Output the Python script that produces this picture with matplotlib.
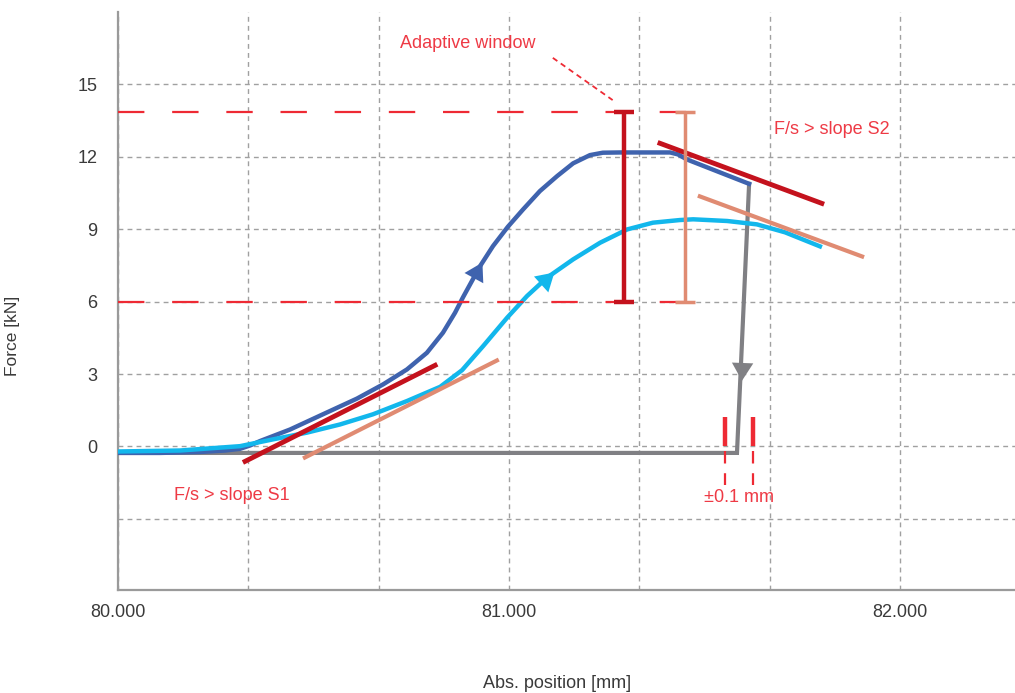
import numpy as np
import matplotlib.pyplot as plt

plt.rcParams['font.family'] = ['Liberation Sans', 'DejaVu Sans']
plt.rcParams['lines.scale_dashes'] = False

# force curve, first press (dark blue)
pos_a = [80.000, 80.107, 80.210, 80.274, 80.312, 80.338, 80.363, 80.440, 80.524,
         80.611, 80.678, 80.739, 80.790, 80.831, 80.862, 80.882, 80.926, 80.959,
         80.997, 81.036, 81.079, 81.123, 81.164, 81.207, 81.240, 81.284, 81.412,
         81.432, 81.455, 81.614]
force_a = [-0.27, -0.27, -0.23, -0.17, -0.10, 0.04, 0.22, 0.70, 1.33,
           1.98, 2.57, 3.19, 3.88, 4.71, 5.54, 6.17, 7.47, 8.30,
           9.10, 9.82, 10.58, 11.20, 11.73, 12.07, 12.17, 12.18, 12.18,
           12.10, 11.89, 10.88]

# force curve, second press (cyan)
pos_b = [80.000, 80.159, 80.312, 80.396, 80.483, 80.568, 80.652, 80.739, 80.824,
         80.880, 80.934, 80.995, 81.046, 81.097, 81.164, 81.233, 81.302, 81.368,
         81.437, 81.471, 81.558, 81.634, 81.706, 81.795]
force_b = [-0.21, -0.17, 0.01, 0.29, 0.57, 0.91, 1.33, 1.88, 2.47,
           3.16, 4.16, 5.33, 6.23, 6.99, 7.75, 8.44, 8.99, 9.27,
           9.38, 9.41, 9.34, 9.20, 8.87, 8.29]

# return path (gray)
pos_ret = [81.614, 81.583, 80.000]
force_ret = [10.88, -0.27, -0.27]

# slope lines
s1_red = ([80.325, 80.811], [-0.62, 3.36])
s1_sal = ([80.478, 80.969], [-0.46, 3.56])
s2_red = ([81.386, 81.800], [12.56, 10.07])
s2_sal = ([81.488, 81.903], [10.36, 7.87])

# adaptive window
win_lo, win_hi = 5.97, 13.84
win_x_red, win_x_sal = 81.294, 81.450
win_end = 81.46

# +-0.1 mm tolerance marks
tol_x = [81.552, 81.624]

c_blue = '#3F63AE'
c_cyan = '#12B7EC'
c_gray = '#808084'
c_dred = '#C4121D'
c_sal = '#E08B72'
c_red = '#EE2A34'
c_txt = '#EE3A45'

fig = plt.figure(figsize=(10.15, 6.93), dpi=100)
ax = fig.add_axes([118 / 1015, 103 / 693, 897 / 1015, 578 / 693])
ax.set_xlim(80.0, 82.294)
ax.set_ylim(-5.95, 18.0)

xt = [80.0, 80 + 1 / 3, 80 + 2 / 3, 81.0, 81 + 1 / 3, 81 + 2 / 3, 82.0]
ax.set_xticks(xt)
ax.set_xticklabels(['80.000', '', '', '81.000', '', '', '82.000'])
ax.set_yticks([-3, 0, 3, 6, 9, 12, 15])
ax.set_yticklabels(['', '0', '3', '6', '9', '12', '15'])
ax.tick_params(length=0, labelsize=13, colors='#3a3a3a')
ax.tick_params(axis='x', pad=10)
ax.tick_params(axis='y', pad=15)
ax.grid(True, color='#a0a0a0', lw=1.0, linestyle=(0, (3.5, 3)))
ax.set_axisbelow(True)
for s in ['top', 'right']:
    ax.spines[s].set_visible(False)
for s in ['left', 'bottom']:
    ax.spines[s].set_color('#9a9a9a')
    ax.spines[s].set_linewidth(1.6)

ax.set_xlabel('Abs. position [mm]', fontsize=13, color='#3a3a3a')
ax.xaxis.set_label_coords(0.489, -0.147)
ax.set_ylabel('Force [kN]', fontsize=12.5, color='#3a3a3a')
ax.yaxis.set_label_coords(-0.109, 0.44)

# curves
ax.plot(pos_ret, force_ret, color=c_gray, lw=3, solid_joinstyle='miter', zorder=2)
ax.plot(pos_a, force_a, color=c_blue, lw=3.2, zorder=3)
ax.plot(pos_b, force_b, color=c_cyan, lw=3.2, zorder=4)


def arrow_head(x0, y0, x1, y1, color):
    ax.annotate('', xy=(x1, y1), xytext=(x0, y0),
                arrowprops=dict(arrowstyle='-|>,head_length=0.4,head_width=0.24',
                                color=color, lw=0.01, mutation_scale=32,
                                shrinkA=0, shrinkB=0),
                zorder=5)


arrow_head(80.86, np.interp(80.86, pos_a, force_a), 80.932,
           np.interp(80.932, pos_a, force_a), c_blue)
arrow_head(81.03, np.interp(81.03, pos_b, force_b), 81.116,
           np.interp(81.116, pos_b, force_b), c_cyan)
arrow_head(81.602, 5.5, 81.5957, 2.72, c_gray)

# slope lines
ax.plot(*s1_sal, color=c_sal, lw=3, zorder=6)
ax.plot(*s1_red, color=c_dred, lw=3.5, zorder=6)
ax.plot(*s2_sal, color=c_sal, lw=3, zorder=6)
ax.plot(*s2_red, color=c_dred, lw=3.5, zorder=6)

# adaptive window
ax.plot([80.0, win_end], [win_hi, win_hi], color=c_red, lw=1.6,
        linestyle=(0, (19, 20)), zorder=7)
ax.plot([80.0, win_end], [win_lo, win_lo], color=c_red, lw=1.6,
        linestyle=(0, (19, 20)), zorder=7)
ax.errorbar([win_x_red], [(win_lo + win_hi) / 2], yerr=[(win_hi - win_lo) / 2],
            fmt='none', ecolor=c_dred, elinewidth=3.2, capsize=7.2, capthick=3.2,
            zorder=8)
ax.errorbar([win_x_sal], [(win_lo + win_hi) / 2], yerr=[(win_hi - win_lo) / 2],
            fmt='none', ecolor=c_sal, elinewidth=2.5, capsize=7.2, capthick=2.5,
            zorder=8)

ax.text(80.720, 16.70, 'Adaptive window', color=c_txt, fontsize=13,
        ha='left', va='center')
ax.plot([81.112, 81.265], [16.10, 14.35], color=c_red, lw=1.3,
        linestyle=(0, (4, 3)), zorder=7)
ax.text(81.678, 13.15, 'F/s > slope S2', color=c_txt, fontsize=13,
        ha='left', va='center')
ax.text(80.143, -2.03, 'F/s > slope S1', color=c_txt, fontsize=13,
        ha='left', va='center')

# tolerance marks
for tx in tol_x:
    ax.plot([tx, tx], [0.0, 1.2], color=c_red, lw=3.2, solid_capstyle='butt',
            zorder=7)
    ax.plot([tx, tx], [-0.2, -1.6], color=c_red, lw=1.6,
            linestyle=(0, (9, 7)), zorder=7)
ax.text(np.mean(tol_x), -2.1, '±0.1 mm', color=c_txt, fontsize=13,
        ha='center', va='center')

fig.savefig('out.png', dpi=100)
